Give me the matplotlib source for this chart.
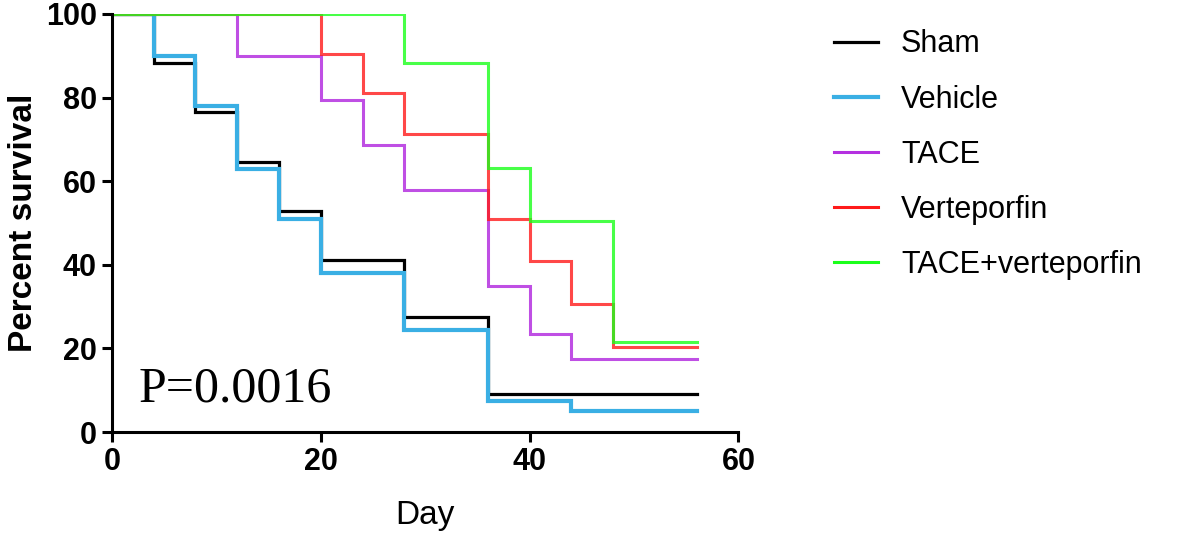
import matplotlib
matplotlib.use("Agg")
import matplotlib.pyplot as plt

# Kaplan-Meier step data (day, percent survival)
sham_t = [0, 4, 8, 12, 16, 20, 28, 36, 56]
sham_s = [100, 88.2, 76.5, 64.7, 52.9, 41.2, 27.5, 9.2, 9.2]

vehicle_t = [0, 4, 8, 12, 16, 20, 28, 36, 44, 56]
vehicle_s = [100, 90, 78, 63, 51, 38, 24.5, 7.5, 5, 5]

tace_t = [0, 12, 20, 24, 28, 36, 40, 44, 56]
tace_s = [100, 90, 79.5, 68.7, 58, 35, 23.4, 17.5, 17.5]

vert_t = [0, 20, 24, 28, 36, 40, 44, 48, 56]
vert_s = [100, 90.5, 81, 71.4, 51, 40.9, 30.7, 20.4, 20.4]

combo_t = [0, 28, 36, 40, 48, 56]
combo_s = [100, 88.2, 63.2, 50.5, 21.6, 21.6]

labels = ["Sham", "Vehicle", "TACE", "Verteporfin", "TACE+verteporfin"]
xticks = [0, 20, 40, 60]
yticks = [0, 20, 40, 60, 80, 100]

fig = plt.figure(figsize=(11.81, 5.36), dpi=100)
ax = fig.add_axes([0.0948, 0.194, 0.5305, 0.780])

series = [
    (sham_t, sham_s, "#000000", 2.3, 1.0),
    (vehicle_t, vehicle_s, "#3AAFE4", 3.0, 1.0),
    (tace_t, tace_s, "#B430E0", 2.2, 0.85),
    (vert_t, vert_s, "#FF1A1A", 2.2, 0.8),
    (combo_t, combo_s, "#1AFF1A", 2.2, 0.8),
]
for (t, s, c, lw, a), lab in zip(series, labels):
    ax.step(t, s, where="post", color=c, lw=lw, alpha=a, label=lab,
            solid_joinstyle="miter")

ax.set_xlim(0, 60)
ax.set_ylim(0, 100)
ax.set_xticks(xticks)
ax.set_yticks(yticks)
for sp in ["top", "right"]:
    ax.spines[sp].set_visible(False)
for sp in ["left", "bottom"]:
    ax.spines[sp].set_linewidth(2.2)
ax.tick_params(width=2.2, length=7, direction="out", pad=4)
for lbl in ax.get_xticklabels() + ax.get_yticklabels():
    lbl.set_fontfamily("Liberation Sans")
    lbl.set_fontweight("bold")
    lbl.set_fontsize(22)

ax.set_ylabel("Percent survival", fontsize=24, fontweight="bold",
              family="Liberation Sans", labelpad=5)
ax.set_xlabel("Day", fontsize=24, family="Liberation Sans", labelpad=16)

ax.text(2.5, 7.2, "P=0.0016", family="Liberation Serif", fontsize=36,
        ha="left", va="baseline")

handles, labs = ax.get_legend_handles_labels()
leg = fig.legend(handles, labs, loc="upper left",
                 bbox_to_anchor=(0.706, 0.945), frameon=False,
                 borderpad=0, borderaxespad=0, handlelength=1.45,
                 handletextpad=0.75, labelspacing=0.82,
                 prop={"family": "Liberation Sans", "size": 22})
for lh in leg.get_lines():
    lh.set_alpha(1)

fig.savefig("out.png", dpi=100)
